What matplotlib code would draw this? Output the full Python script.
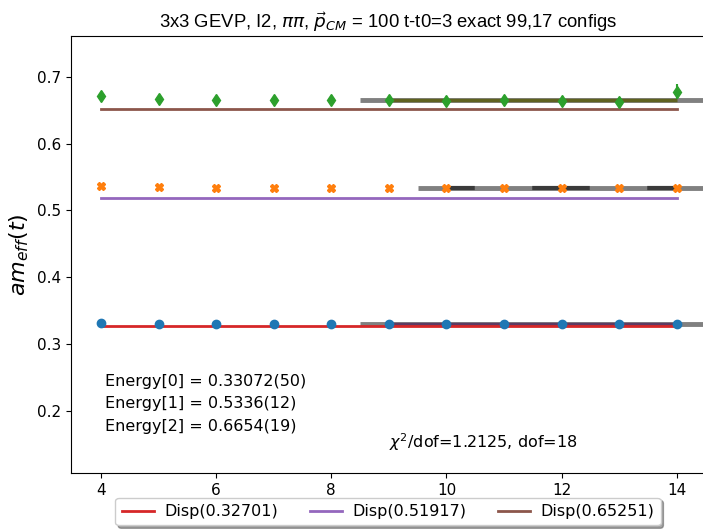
import numpy as np
import matplotlib.pyplot as plt

# effective mass data, t = 4..14
t = np.arange(4, 15)
meff0 = [0.3318, 0.3306, 0.3302, 0.3300, 0.3300, 0.3300, 0.3300, 0.3300, 0.3300, 0.3300, 0.3300]
err0 = [0.0008, 0.0006, 0.0005, 0.0005, 0.0005, 0.0005, 0.0005, 0.0005, 0.0005, 0.0006, 0.0007]
meff1 = [0.5370, 0.5350, 0.5340, 0.5338, 0.5336, 0.5334, 0.5334, 0.5334, 0.5336, 0.5334, 0.5330]
err1 = [0.0010, 0.0010, 0.0010, 0.0010, 0.0010, 0.0012, 0.0012, 0.0012, 0.0014, 0.0016, 0.0020]
meff2 = [0.6715, 0.6675, 0.6660, 0.6660, 0.6648, 0.6654, 0.6645, 0.6650, 0.6640, 0.6630, 0.6775]
err2 = [0.0030, 0.0025, 0.0025, 0.0025, 0.0025, 0.0030, 0.0030, 0.0030, 0.0035, 0.0040, 0.0110]

# fit results
energies = [0.33072, 0.5336, 0.6654]
energy_labels = ["0.33072(50)", "0.5336(12)", "0.6654(19)"]
fit_tmin = [9, 10, 9]
fit_tmax = 14
disp = [0.32701, 0.51917, 0.65251]
chi2_dof = 1.2125
dof = 18

fig = plt.figure(figsize=(7.03, 5.30), dpi=100)
ax = fig.add_axes([71/703, 0.1075, 634/703, 0.8245])

xmax = 14.49
# fit bands
ax.hlines(energies[0], fit_tmin[0] - 0.5, xmax, color='grey', lw=3.5, zorder=1)
ax.hlines(energies[0], fit_tmin[0], fit_tmax, color='#5e3a62', lw=2.5, zorder=2)
ax.hlines(energies[1], fit_tmin[1] - 0.5, xmax, color='grey', lw=3.5, zorder=1)
ax.plot([fit_tmin[1], fit_tmax], [energies[1]] * 2, color='#3a3a3a', lw=3,
        linestyle=(6.9, (13.8, 13.8)), zorder=2)
ax.hlines(energies[2], fit_tmin[2] - 0.5, xmax, color='grey', lw=3.5, zorder=1)
ax.hlines(energies[2], fit_tmin[2], fit_tmax, color='#5f6220', lw=2.5, zorder=2)

# data
ax.errorbar(t, meff0, yerr=err0, fmt='o', color='C0', ms=6, zorder=4)
ax.errorbar(t, meff1, yerr=err1, fmt='X', color='C1', ms=6, zorder=4)
ax.errorbar(t, meff2, yerr=err2, fmt='d', color='C2', ms=6, elinewidth=1.5, zorder=4)

# dispersion lines
lines = []
for e, c in zip(disp, ['C3', 'C4', 'C5']):
    ln, = ax.plot([t[0], t[-1]], [e, e], color=c, lw=2, zorder=3, label=f"Disp({e})")
    lines.append(ln)

ax.set_xlim(3.48, xmax)
ax.set_ylim(0.107, 0.761)
ax.set_xticks([4, 6, 8, 10, 12, 14])
ax.set_yticks([0.2, 0.3, 0.4, 0.5, 0.6, 0.7])
ax.tick_params(labelsize=11)
ax.set_ylabel(r"$am_{eff}(t)$", fontsize=16)

ax.set_title(r"3x3 GEVP, I2, $\pi\pi$, $\vec{p}_{CM}$ = 100 t-t0=3 exact 99,17 configs",
             fontsize=13.3, family='Liberation Sans')

for i, lab in enumerate(energy_labels):
    ax.text(0.054, 0.21 - i * 0.052, f"Energy[{i}] = {lab}", transform=ax.transAxes,
            fontsize=11.5, va='center')
ax.text(0.502, 0.07, rf"$\chi^2$/dof={chi2_dof}, dof={dof}", transform=ax.transAxes,
        fontsize=11.5, va='center')

fig.legend(handles=lines, loc='upper center', bbox_to_anchor=(388/703, 0.076), ncol=3,
           fontsize=11.5, shadow=True, columnspacing=2.0, handletextpad=0.65)

fig.savefig("out.png", dpi=100)
